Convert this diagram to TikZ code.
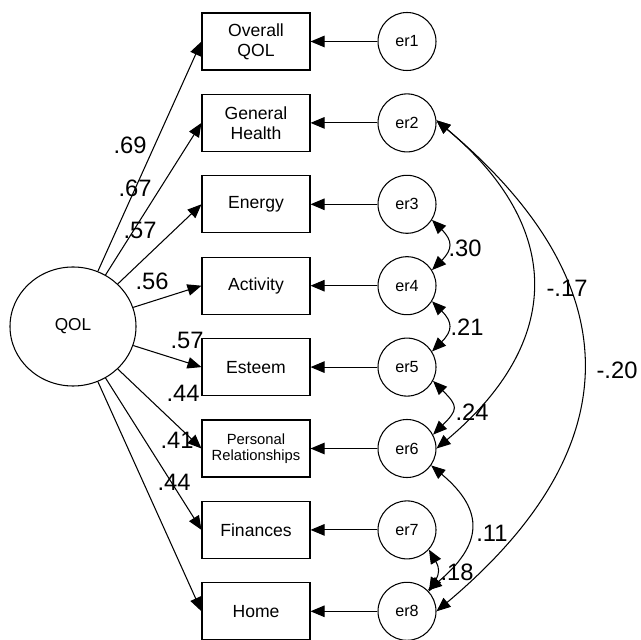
\documentclass[tikz,border=0pt]{standalone}
\usepackage{fontspec}
\setmainfont{Liberation Sans}
\usetikzlibrary{arrows.meta}
\usetikzlibrary{positioning}
\usetikzlibrary{shapes.geometric}

\begin{document}
\begin{tikzpicture}[node distance=1.628cm,line width=0.6pt,
  >={Triangle[length=0.28cm,width=0.23cm]},
  obs/.style={draw,rectangle,minimum width=2.16cm,minimum height=1.14cm,inner sep=1pt,align=center,font=\fontsize{10}{11.2}\selectfont},
  err/.style={draw,circle,minimum size=1.16cm,inner sep=0pt,font=\fontsize{9.2}{10}\selectfont},
  coef/.style={inner sep=0pt,font=\fontsize{13.5}{15}\selectfont}]
  \useasboundingbox (0,0) rectangle (12.82,-12.8);
  \node[draw,ellipse,minimum width=2.52cm,minimum height=2.38cm,font=\fontsize{9.8}{10}\selectfont] (qol) at (1.46,-6.53) {QOL};
  \node[obs] (ov) at (5.12,-0.83) {Overall\\QOL};
  \node[obs,below of=ov] (gh) {General\\Health};
  \node[obs,below of=gh] (en) {Energy};
  \node[obs,below of=en] (ac) {Activity};
  \node[obs,below of=ac] (es) {Esteem};
  \node[obs,below of=es,font=\fontsize{8.4}{9}\selectfont] (pr) {Personal\\Relationships};
  \node[obs,below of=pr] (fi) {Finances};
  \node[obs,below of=fi] (ho) {Home};
  \node[err,node distance=3.02cm,right of=ov] (er1) {er1};
  \node[err,node distance=3.02cm,right of=gh] (er2) {er2};
  \node[err,node distance=3.02cm,right of=en] (er3) {er3};
  \node[err,node distance=3.02cm,right of=ac] (er4) {er4};
  \node[err,node distance=3.02cm,right of=es] (er5) {er5};
  \node[err,node distance=3.02cm,right of=pr] (er6) {er6};
  \node[err,node distance=3.02cm,right of=fi] (er7) {er7};
  \node[err,node distance=3.02cm,right of=ho] (er8) {er8};
  % loadings
  \draw[->](qol)--(ov.west);
  \draw[->](qol)--(gh.west);
  \draw[->](qol)--(en.west);
  \draw[->](qol)--(ac.west);
  \draw[->](qol)--(es.west);
  \draw[->](qol)--(pr.west);
  \draw[->](qol)--(fi.west);
  \draw[->](qol)--(ho.west);
  % errors
  \draw[->](er1)--(ov);
  \draw[->](er2)--(gh);
  \draw[->](er3)--(en);
  \draw[->](er4)--(ac);
  \draw[->](er5)--(es);
  \draw[->](er6)--(pr);
  \draw[->](er7)--(fi);
  \draw[->](er8)--(ho);
  % covariances
  \draw[<->](er3.-32) to[out=-45,in=45,looseness=1.5] (er4.32);
  \draw[<->](er4.-32) to[out=-45,in=45,looseness=1.5] (er5.32);
  \draw[<->](er5.-28) to[out=-45,in=45,looseness=1.7] (er6.28);
  \draw[<->](er6.-35) to[out=-40,in=40,looseness=1.45] (er8.45);
  \draw[<->](er7.-42) to[out=-60,in=60,looseness=1.3] (er8.42);
  \draw[<->](er2.5) to[out=-40,in=40,looseness=1.3] (er6.0);
  \draw[<->](er2.5) to[out=-40,in=40,looseness=1.33] (er8.0);
  \node[coef] (l1) at (2.6,-2.9) {.69};
  \node[coef] (l2) at (2.7,-3.76) {.67};
  \node[coef] (l3) at (2.8,-4.6) {.57};
  \node[coef] (l4) at (3.04,-5.62) {.56};
  \node[coef] (l5) at (3.74,-6.8) {.57};
  \node[coef] (l6) at (3.66,-7.86) {.44};
  \node[coef] (l7) at (3.54,-8.8) {.41};
  \node[coef] (l8) at (3.48,-9.64) {.44};
  \node[coef] (c34) at (9.3,-4.96) {.30};
  \node[coef] (c45) at (9.34,-6.54) {.21};
  \node[coef] (c56) at (9.44,-8.24) {.24};
  \node[coef] (c68) at (9.84,-10.66) {.11};
  \node[coef] (c78) at (9.14,-11.44) {.18};
  \node[coef] (c26) at (11.34,-5.76) {-.17};
  \node[coef] (c28) at (12.34,-7.4) {-.20};
\end{tikzpicture}
\end{document}
